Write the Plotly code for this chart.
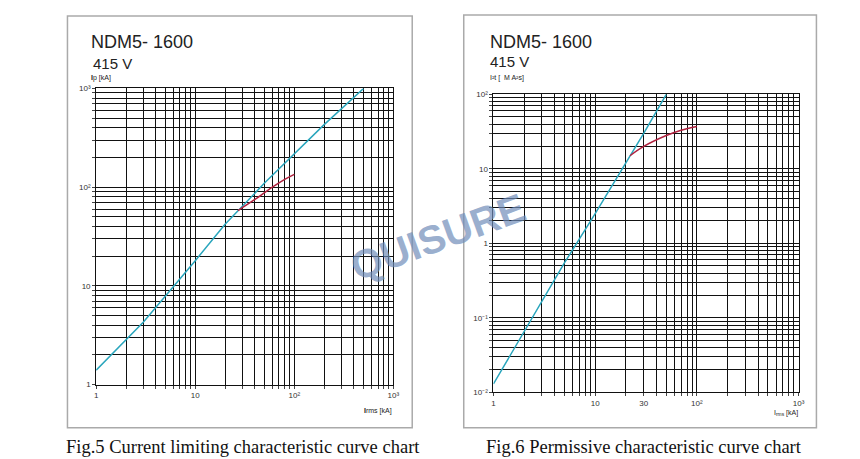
import plotly.graph_objects as go
import math

W, H = 860, 459
# Fig.5 data
ip_x = [1, 3, 10, 20, 50, 100, 200, 500]
ip_y = [1.4, 4.3, 18, 42, 110, 215, 430, 1000]
ip_lim_x = [27, 40, 60, 80, 100]
ip_lim_y = [58, 75, 100, 120, 135]
# Fig.6 data
i2t_x = [1, 2, 5, 10, 20, 30, 50]
i2t_y = [0.013, 0.065, 0.55, 2.5, 12, 30, 100]
i2t_lim_x = [22, 30, 50, 70, 100]
i2t_lim_y = [15, 20, 28, 33, 37]

def logvals(lo, hi):
    v = []
    d = lo
    while d < hi * 0.999:
        for k in range(1, 10):
            v.append(d * k)
        d *= 10
    v.append(hi)
    return v

def labels(vals, lab):
    return [lab.get(v, "") for v in vals]

fig = go.Figure()
cyan = "#2aa6bd"; red = "#b0223f"
fig.add_trace(go.Scatter(x=ip_x, y=ip_y, mode="lines", line=dict(color=cyan, width=1.5), xaxis="x", yaxis="y"))
fig.add_trace(go.Scatter(x=ip_lim_x, y=ip_lim_y, mode="lines", line=dict(color=red, width=1.5, shape="spline"), xaxis="x", yaxis="y"))
fig.add_trace(go.Scatter(x=i2t_x, y=i2t_y, mode="lines", line=dict(color=cyan, width=1.5), xaxis="x2", yaxis="y2"))
fig.add_trace(go.Scatter(x=i2t_lim_x, y=i2t_lim_y, mode="lines", line=dict(color=red, width=1.5, shape="spline"), xaxis="x2", yaxis="y2"))

tf = dict(size=8, color="#333", family="Liberation Sans")
def ax(dom, lo, hi, lab, anchor):
    vals = logvals(lo, hi)
    return dict(type="log", domain=dom, range=[math.log10(lo), math.log10(hi)],
                tickvals=vals, ticktext=labels(vals, lab), showgrid=True, gridcolor="#111", gridwidth=1.2,
                zeroline=False, showline=True, linecolor="#111", mirror=True, ticks="outside", ticklen=3,
                tickfont=tf, anchor=anchor)

fig.update_layout(
    width=W, height=H, margin=dict(l=0, r=0, t=0, b=0), showlegend=False,
    paper_bgcolor="white", plot_bgcolor="white",
    xaxis=ax([87/W, 387/W], 1, 1000, {1: "1", 10: "10", 100: "10²", 1000: "10³"}, "y"),
    yaxis=ax([1-380/H, 1-78/H], 1, 1000, {1: "1", 10: "10", 100: "10²", 1000: "10³"}, "x"),
    xaxis2=ax([488/W, 796/W], 1, 1000, {1: "1", 10: "10", 30: "30", 100: "10²", 1000: "10³"}, "y2"),
    yaxis2=ax([1-388/H, 1-84/H], 0.01, 100, {0.01: "10⁻²", 0.1: "10⁻¹", 1: "1", 10: "10", 100: "10²"}, "x2"),
)

def px(x, y): return x / W, 1 - y / H
ann = []
def t(x, y, s, size, anchor="left", fam="Liberation Sans", color="#222"):
    ax_, ay_ = px(x, y)
    ann.append(dict(x=ax_, y=ay_, xref="paper", yref="paper", text=s, showarrow=False,
                    xanchor=anchor, yanchor="middle", font=dict(size=size, family=fam, color=color)))
t(80, 31, "NDM5- 1600", 18); t(82, 53, "415 V", 15)
t(80, 67, "<b>I</b>p [kA]", 7)
t(388, 407, "<b>I</b>rms [kA]", 7, "right")
t(482, 31, "NDM5- 1600", 18); t(482, 50, "415 V", 15)
t(482, 67, "I²t [  M A²s]", 7)
t(797, 409, "I<sub>rms</sub> [kA]", 7, "right")
t(235, 444, "Fig.5 Current limiting characteristic curve chart", 18.5, "center", "Liberation Serif", "#111")
t(640, 444, "Fig.6 Permissive characteristic curve chart", 18.5, "center", "Liberation Serif", "#111")
wx, wy = px(432, 230)
ann.append(dict(x=wx, y=wy, xref="paper", yref="paper", text="<b>QUISURE</b>", showarrow=False,
                textangle=-20, font=dict(size=40, family="Liberation Sans", color="rgba(110,140,185,0.7)")))
fig.update_layout(annotations=ann)
for (x0, y0, x1, y1) in [(58, 4, 406, 424), (458, 3, 814, 424)]:
    fig.add_shape(type="rect", xref="paper", yref="paper", x0=x0/W, x1=x1/W, y0=1-y1/H, y1=1-y0/H,
                  line=dict(color="#aaa", width=1.5))
fig.write_html("out.html")
